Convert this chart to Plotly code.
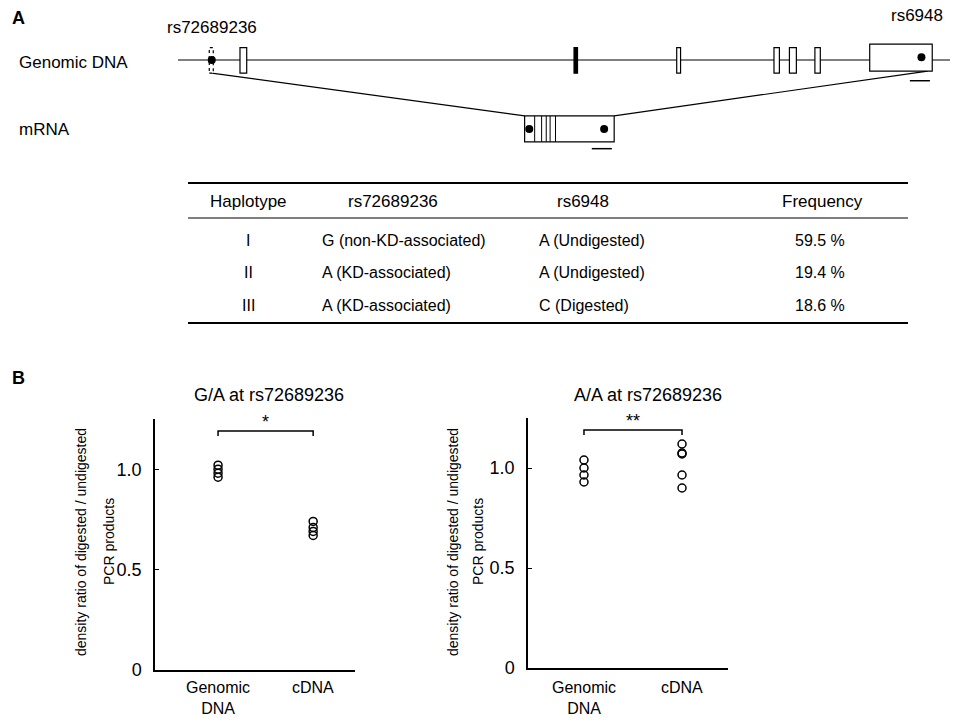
import plotly.graph_objects as go

W, H = 955, 718

# ---------------- Panel A data ----------------
gene_span = [0, 100]                      # genomic DNA line (diagram units)
exon_start = [4.05, 8.03, 51.3, 64.6, 77.2, 79.2, 82.5, 89.6]
exon_end = [4.57, 8.90, 51.75, 65.1, 77.9, 80.1, 83.2, 97.7]
snp_genomic = [4.37, 96.3]                # rs72689236, rs6948
snp_names = ["rs72689236", "rs6948"]
mrna_span = [44.9, 56.5]
mrna_junctions = [46.2, 47.1, 47.7, 48.2, 48.9]
snp_mrna = [45.5, 55.2]
amplicon_genomic = [94.8, 97.4]
amplicon_mrna = [53.6, 56.2]
row_labels = ["Genomic DNA", "mRNA"]

table_header = ["Haplotype", "rs72689236", "rs6948", "Frequency"]
haplotypes = ["I", "II", "III"]
allele_rs72689236 = ["G (non-KD-associated)", "A (KD-associated)", "A (KD-associated)"]
allele_rs6948 = ["A (Undigested)", "A (Undigested)", "C (Digested)"]
frequency = ["59.5 %", "19.4 %", "18.6 %"]

# ---------------- Panel B data ----------------
categories = [0, 1]
category_labels = ["Genomic<br>DNA", "cDNA"]
ga_genomic = [1.02, 1.00, 0.98, 0.96]
ga_cdna = [0.74, 0.71, 0.69, 0.67]
aa_genomic = [1.04, 1.00, 0.965, 0.93]
aa_cdna = [1.12, 1.075, 1.07, 0.965, 0.90]
panel_titles = ["G/A at rs72689236", "A/A at rs72689236"]
significance = ["*", "**"]
y_title_1 = "density ratio of digested / undigested"
y_title_2 = "PCR products"
y_tickvals = [0, 0.5, 1.0]
y_ticktext = ["0", "0.5", "1.0"]

FONT = "Liberation Sans, Arial, Helvetica, sans-serif"
BG = "white"


def px(x):
    return x / W


def py(y):
    return 1 - y / H


fig = go.Figure()

# ---------- Panel B scatter ----------
marker = dict(symbol="circle-open", size=8, color="black", line=dict(width=1.5, color="black"))
fig.add_trace(go.Scatter(x=[categories[0]] * len(ga_genomic), y=ga_genomic, mode="markers",
                         marker=marker, xaxis="x", yaxis="y", showlegend=False))
fig.add_trace(go.Scatter(x=[categories[1]] * len(ga_cdna), y=ga_cdna, mode="markers",
                         marker=marker, xaxis="x", yaxis="y", showlegend=False))
fig.add_trace(go.Scatter(x=[categories[0]] * len(aa_genomic), y=aa_genomic, mode="markers",
                         marker=marker, xaxis="x2", yaxis="y2", showlegend=False))
fig.add_trace(go.Scatter(x=[categories[1]] * len(aa_cdna), y=aa_cdna, mode="markers",
                         marker=marker, xaxis="x2", yaxis="y2", showlegend=False))

# ---------- Panel A: gene diagram ----------
shapes = []
G, M = 1.0, 0.0  # genomic row, mRNA row
shapes.append(dict(type="line", xref="x3", yref="y3", x0=gene_span[0], x1=gene_span[1],
                   y0=G, y1=G, line=dict(color="black", width=1.2), layer="below"))
shapes.append(dict(type="line", xref="x3", yref="y3", x0=snp_genomic[0], y0=G - 0.19,
                   x1=mrna_span[0], y1=M + 0.19, line=dict(color="black", width=1.2), layer="below"))
shapes.append(dict(type="line", xref="x3", yref="y3", x0=mrna_span[1], y0=M + 0.19,
                   x1=exon_end[-1] - 0.6, y1=G - 0.16, line=dict(color="black", width=1.2), layer="below"))
for i, (s, e) in enumerate(zip(exon_start, exon_end)):
    if i == len(exon_start) - 1:
        y0, y1 = G - 0.16, G + 0.23
    else:
        y0, y1 = G - 0.19, G + 0.18
    dash = "dot" if i == 0 else "solid"
    fill = "black" if i == 2 else BG
    shapes.append(dict(type="rect", xref="x3", yref="y3", x0=s, x1=e, y0=y0, y1=y1,
                       line=dict(color="black", width=1.2, dash=dash), fillcolor=fill, layer="below"))
shapes.append(dict(type="rect", xref="x3", yref="y3", x0=mrna_span[0], x1=mrna_span[1],
                   y0=M - 0.185, y1=M + 0.19, line=dict(color="black", width=1.2),
                   fillcolor=BG, layer="below"))
for j in mrna_junctions:
    shapes.append(dict(type="line", xref="x3", yref="y3", x0=j, x1=j, y0=M - 0.185, y1=M + 0.19,
                       line=dict(color="black", width=1), layer="below"))
shapes.append(dict(type="line", xref="x3", yref="y3", x0=amplicon_genomic[0], x1=amplicon_genomic[1],
                   y0=G - 0.3, y1=G - 0.3, line=dict(color="black", width=1.5), layer="below"))
shapes.append(dict(type="line", xref="x3", yref="y3", x0=amplicon_mrna[0], x1=amplicon_mrna[1],
                   y0=M - 0.285, y1=M - 0.285, line=dict(color="black", width=1.5), layer="below"))

fig.add_trace(go.Scatter(x=snp_genomic, y=[G, G + 0.04], mode="markers",
                         marker=dict(size=8, color="black"), xaxis="x3", yaxis="y3", showlegend=False))
fig.add_trace(go.Scatter(x=snp_mrna, y=[M, M], mode="markers",
                         marker=dict(size=8, color="black"), xaxis="x3", yaxis="y3", showlegend=False))

# ---------- Table ----------
tx0, tx1 = 188, 908
for yy, w in [(183, 2), (218, 1.2), (323, 2)]:
    shapes.append(dict(type="line", xref="paper", yref="paper", x0=px(tx0), x1=px(tx1),
                       y0=py(yy), y1=py(yy), line=dict(color="black", width=w)))

# ---------- Significance brackets ----------
for xa, ya in [("x", "y"), ("x2", "y2")]:
    shapes.append(dict(type="path", xref=xa, yref=ya,
                       path=f"M {categories[0]},1.165 L {categories[0]},1.19 L {categories[1]},1.19 L {categories[1]},1.165",
                       line=dict(color="black", width=1.5)))

annotations = []
tf = dict(family=FONT, color="black")


def ann(text, x, y, size, xanchor="center", yanchor="middle", bold=False, **kw):
    t = f"<b>{text}</b>" if bold else text
    d = dict(text=t, x=x, y=y, xref=kw.pop("xref", "paper"), yref=kw.pop("yref", "paper"),
             xanchor=xanchor, yanchor=yanchor, showarrow=False,
             font=dict(size=size, **tf))
    d.update(kw)
    annotations.append(d)


ann("A", px(10), py(18), 18, xanchor="left", bold=True)
ann("B", px(10), py(378), 18, xanchor="left", bold=True)
ann(row_labels[0], px(17), py(62), 17, xanchor="left")
ann(row_labels[1], px(17), py(130), 17, xanchor="left")
ann(snp_names[0], snp_genomic[0], py(28), 17, xref="x3")
ann(snp_names[1], snp_genomic[1] - 0.6, py(15), 17, xref="x3")

hdr_x = [248, 393, 583, 822]
for h, x in zip(table_header, hdr_x):
    ann(h, px(x), py(201), 17)
row_y = [240, 272, 305]
for k in range(3):
    ann(haplotypes[k], px(248), py(row_y[k]), 16)
    ann(allele_rs72689236[k], px(320), py(row_y[k]), 16, xanchor="left")
    ann(allele_rs6948[k], px(537), py(row_y[k]), 16, xanchor="left")
    ann(frequency[k], px(820), py(row_y[k]), 16)

ann(panel_titles[0], px(269), py(395), 18)
ann(panel_titles[1], px(648), py(395), 18)
ann(significance[0], (categories[0] + categories[1]) / 2, 1.235, 18, xref="x", yref="y")
ann(significance[1], (categories[0] + categories[1]) / 2, 1.235, 18, xref="x2", yref="y2")
for xl1, xl2 in [(81, 109), (453, 478)]:
    ann(y_title_1, px(xl1), py(542), 14, textangle=-90)
    ann(y_title_2, px(xl2), py(542), 14, textangle=-90)

# category labels below each x axis, kept inside the page
for xa in ["x", "x2"]:
    for c, lab in zip(categories, category_labels):
        ann(lab, c, py(677), 16, xref=xa, yanchor="top")

yaxis_common = dict(range=[0, 1.25], showgrid=False, zeroline=False, showline=True,
                    linecolor="black", linewidth=1.5, ticks="inside", ticklen=4, tickwidth=1.2,
                    tickcolor="black", tickvals=y_tickvals, ticktext=y_ticktext,
                    tickfont=dict(size=18, **tf), ticklabelstandoff=8, automargin=False)
xaxis_common = dict(showgrid=False, zeroline=False, showline=True, linecolor="black", linewidth=1.5,
                    ticks="", tickvals=categories, showticklabels=False, automargin=False)

fig.update_layout(
    width=W, height=H, margin=dict(l=0, r=0, t=0, b=0, autoexpand=False), autosize=False,
    paper_bgcolor=BG, plot_bgcolor="rgba(0,0,0,0)",
    showlegend=False,
    font=dict(family=FONT, color="black"),
    xaxis=dict(domain=[px(155), px(355)], range=[-0.663, 1.44], anchor="y", **xaxis_common),
    yaxis=dict(domain=[py(670), py(419)], anchor="x", **yaxis_common),
    xaxis2=dict(domain=[px(528), px(728)], range=[-0.571, 1.469], anchor="y2", **xaxis_common),
    yaxis2=dict(domain=[py(668), py(418)], anchor="x2", **yaxis_common),
    xaxis3=dict(domain=[px(178), px(950)], range=[0, 100], visible=False, anchor="y3", automargin=False),
    yaxis3=dict(domain=[py(170), py(20)], range=[-0.594, 1.58], visible=False, anchor="x3", automargin=False),
    shapes=shapes,
    annotations=annotations,
)

post = "document.body.style.margin='0';document.body.style.overflow='hidden';"
fig.write_html("out.html", config={"displayModeBar": False}, post_script=post)
